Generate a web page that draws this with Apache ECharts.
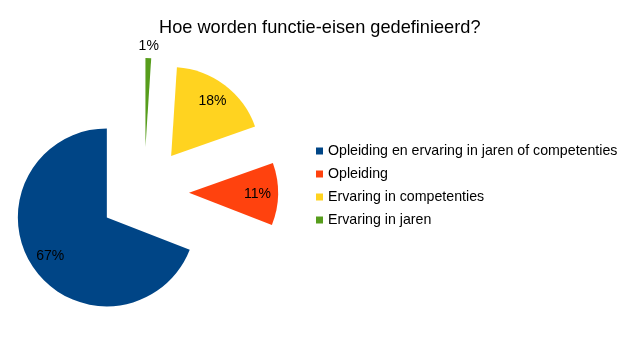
<!DOCTYPE html>
<html>
<head>
<meta charset="utf-8">
<script src="https://cdn.jsdelivr.net/npm/echarts@6/dist/echarts.min.js"></script>
<style>html,body{margin:0;padding:0;background:#fff}#c{width:640px;height:360px}</style>
</head>
<body>
<div id="c"></div>
<script>
const titleText = 'Hoe worden functie-eisen gedefinieerd?';
const categories = ['Opleiding en ervaring in jaren of competenties', 'Opleiding', 'Ervaring in competenties', 'Ervaring in jaren'];
const values = [67, 11, 18, 1];
const colors = ['#004586', '#ff420e', '#ffd320', '#579d1c'];
const insideLabel = [true, true, true, false];
const outerLabel = [false, false, false, true];

const FONT = 'Liberation Sans, Arial, sans-serif';
const center = [144, 192];
const offset = 45;

function baseSeries(name, radius, itemColorFn, labelShowArr) {
  return {
    type: 'pie',
    name: name,
    center: center,
    radius: radius,
    startAngle: 90,
    clockwise: false,
    selectedMode: 'multiple',
    selectedOffset: offset,
    avoidLabelOverlap: false,
    animation: false,
    silent: true,
    emphasis: { disabled: true },
    labelLine: { show: false },
    data: categories.map((c, i) => ({
      name: c,
      value: values[i],
      selected: true,
      itemStyle: { color: itemColorFn(i) },
      label: {
        show: labelShowArr ? labelShowArr[i] : false,
        position: 'inside',
        formatter: '{c}%',
        color: '#000',
        fontSize: 14,
        fontFamily: FONT
      }
    }))
  };
}

const chart = echarts.init(document.getElementById('c'), null, { renderer: 'canvas' });
chart.setOption({
  backgroundColor: '#fff',
  animation: false,
  color: colors,
  title: {
    text: titleText,
    left: 159,
    top: 19,
    padding: 0,
    textStyle: { fontFamily: FONT, fontSize: 18.2, fontWeight: 'normal', color: '#000' }
  },
  legend: {
    orient: 'vertical',
    left: 316,
    top: 144,
    padding: 0,
    icon: 'rect',
    itemWidth: 7,
    itemHeight: 7,
    itemGap: 9,
    selectedMode: false,
    data: categories,
    textStyle: { fontFamily: FONT, fontSize: 14.2, lineHeight: 14, color: '#000' }
  },
  series: [
    baseSeries('main', [0, 89], i => colors[i], null),
    baseSeries('labels', [42, 89], i => 'rgba(0,0,0,0)', insideLabel),
    baseSeries('labels2', [92, 104], i => 'rgba(0,0,0,0)', outerLabel)
  ]
});
</script>
</body>
</html>
